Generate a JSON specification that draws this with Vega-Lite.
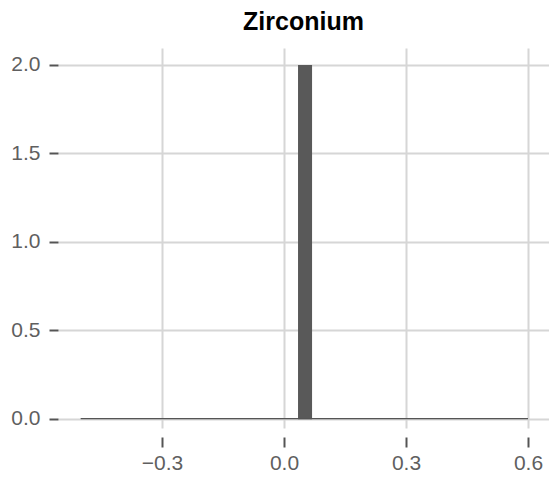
{
  "$schema": "https://vega.github.io/schema/vega-lite/v6.json",
  "width": 491,
  "height": 380,
  "autosize": {"type": "none"},
  "padding": {"left": 58, "top": 48, "right": 0, "bottom": 52},
  "background": "white",
  "title": {
    "text": "Zirconium",
    "font": "Liberation Sans",
    "fontSize": 25,
    "fontWeight": "bold",
    "color": "#000000",
    "anchor": "middle",
    "frame": "group",
    "baseline": "alphabetic",
    "offset": -7
  },
  "config": {
    "view": {"stroke": null},
    "axis": {
      "labelFont": "Liberation Sans",
      "labelFontSize": 21,
      "labelColor": "#5f5f5f",
      "gridColor": "#d6d6d6",
      "gridWidth": 2,
      "tickColor": "#555555",
      "tickWidth": 2,
      "domain": false,
      "title": null
    }
  },
  "data": {
    "values": [
      {"bin_start": -0.5, "bin_end": -0.483, "count": 0},
      {"bin_start": -0.483, "bin_end": -0.4485, "count": 0},
      {"bin_start": -0.4485, "bin_end": -0.414, "count": 0},
      {"bin_start": -0.414, "bin_end": -0.3795, "count": 0},
      {"bin_start": -0.3795, "bin_end": -0.345, "count": 0},
      {"bin_start": -0.345, "bin_end": -0.3105, "count": 0},
      {"bin_start": -0.3105, "bin_end": -0.276, "count": 0},
      {"bin_start": -0.276, "bin_end": -0.2415, "count": 0},
      {"bin_start": -0.2415, "bin_end": -0.207, "count": 0},
      {"bin_start": -0.207, "bin_end": -0.1725, "count": 0},
      {"bin_start": -0.1725, "bin_end": -0.138, "count": 0},
      {"bin_start": -0.138, "bin_end": -0.1035, "count": 0},
      {"bin_start": -0.1035, "bin_end": -0.069, "count": 0},
      {"bin_start": -0.069, "bin_end": -0.0345, "count": 0},
      {"bin_start": -0.0345, "bin_end": 0.0, "count": 0},
      {"bin_start": 0.0, "bin_end": 0.0345, "count": 0},
      {"bin_start": 0.0345, "bin_end": 0.069, "count": 2},
      {"bin_start": 0.069, "bin_end": 0.1035, "count": 0},
      {"bin_start": 0.1035, "bin_end": 0.138, "count": 0},
      {"bin_start": 0.138, "bin_end": 0.1725, "count": 0},
      {"bin_start": 0.1725, "bin_end": 0.207, "count": 0},
      {"bin_start": 0.207, "bin_end": 0.2415, "count": 0},
      {"bin_start": 0.2415, "bin_end": 0.276, "count": 0},
      {"bin_start": 0.276, "bin_end": 0.3105, "count": 0},
      {"bin_start": 0.3105, "bin_end": 0.345, "count": 0},
      {"bin_start": 0.345, "bin_end": 0.3795, "count": 0},
      {"bin_start": 0.3795, "bin_end": 0.414, "count": 0},
      {"bin_start": 0.414, "bin_end": 0.4485, "count": 0},
      {"bin_start": 0.4485, "bin_end": 0.483, "count": 0},
      {"bin_start": 0.483, "bin_end": 0.5175, "count": 0},
      {"bin_start": 0.5175, "bin_end": 0.552, "count": 0},
      {"bin_start": 0.552, "bin_end": 0.5865, "count": 0},
      {"bin_start": 0.5865, "bin_end": 0.6, "count": 0}
    ]
  },
  "encoding": {
    "x": {
      "field": "bin_start",
      "type": "quantitative",
      "scale": {"domain": [-0.5557, 0.6516], "nice": false, "zero": false},
      "axis": {"values": [-0.3, 0, 0.3, 0.6], "format": ".1f", "offset": 9, "tickSize": 10, "labelPadding": 5}
    },
    "y": {
      "field": "count",
      "type": "quantitative",
      "scale": {"domain": [-0.053, 2.096], "nice": false, "zero": false},
      "axis": {"values": [0, 0.5, 1, 1.5, 2], "format": ".1f", "tickSize": 9, "labelPadding": 9}
    }
  },
  "layer": [
    {
      "mark": {"type": "bar", "color": "#595959"},
      "encoding": {
        "x2": {"field": "bin_end"},
        "y2": {"datum": 0}
      }
    },
    {
      "mark": {"type": "rule", "color": "#555555", "strokeWidth": 1.2},
      "encoding": {
        "x": {"aggregate": "min", "field": "bin_start", "type": "quantitative"},
        "x2": {"aggregate": "max", "field": "bin_end"},
        "y": {"datum": 0}
      }
    }
  ]
}
